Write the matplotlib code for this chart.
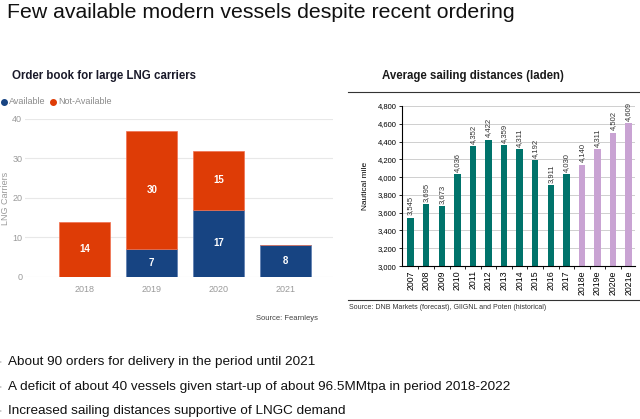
import matplotlib
matplotlib.use('Agg')
import matplotlib.pyplot as plt
from matplotlib.lines import Line2D
from matplotlib.ticker import FuncFormatter

plt.rcParams['font.family'] = ['Liberation Sans', 'DejaVu Sans']

# Order book for large LNG carriers
order_years = ['2018', '2019', '2020', '2021']
available = [0, 7, 17, 8]
not_available = [14, 30, 15, 0]

# Average sailing distances (laden)
dist_years = ['2007', '2008', '2009', '2010', '2011', '2012', '2013', '2014',
              '2015', '2016', '2017', '2018e', '2019e', '2020e', '2021e']
distances = [3545, 3695, 3673, 4036, 4352, 4422, 4359, 4311, 4192, 3911,
             4030, 4140, 4311, 4502, 4609]
n_actual = 11

bullets = ['About 90 orders for delivery in the period until 2021',
           'A deficit of about 40 vessels given start-up of about 96.5MMtpa in period 2018-2022',
           'Increased sailing distances supportive of LNGC demand']

blue = '#174482'
red = '#de3c06'
teal = '#00736b'
lilac = '#c9a3d3'

fig = plt.figure(figsize=(6.4, 4.19), dpi=100)

fig.text(0.011, 0.971, 'Few available modern vessels despite recent ordering',
         fontsize=15.3, color='#111111', va='center', ha='left')

# left chart
ax1 = fig.add_axes([0.039, 0.339, 0.481, 0.377])
x1 = range(len(order_years))
ax1.bar(x1, available, width=0.76, color=blue, edgecolor='#5a7bb0', linewidth=0.5)
ax1.bar(x1, not_available, width=0.76, bottom=available, color=red,
        edgecolor='#f07050', linewidth=0.5)
for i in x1:
    if available[i] > 0:
        ax1.text(i, available[i] / 2, str(available[i]), color='white',
                 fontsize=7, fontweight='bold', ha='center', va='center')
    if not_available[i] > 0:
        ax1.text(i, available[i] + not_available[i] / 2, str(not_available[i]),
                 color='white', fontsize=7, fontweight='bold', ha='center', va='center')
ax1.set_xlim(-0.89, 3.7)
ax1.set_ylim(0, 40)
ax1.set_yticks([0, 10, 20, 30, 40])
ax1.set_xticks(list(x1))
ax1.set_xticklabels(order_years)
ax1.grid(axis='y', color='#e8e8e8', linewidth=0.8)
ax1.set_axisbelow(True)
for s in ax1.spines.values():
    s.set_visible(False)
ax1.tick_params(axis='x', length=0, labelsize=6.5, labelcolor='#9a9a9a', pad=6)
ax1.tick_params(axis='y', length=0, labelsize=6.5, labelcolor='#9a9a9a', pad=2)
ax1.set_ylabel('LNG Carriers', fontsize=6.5, color='#9a9a9a')
ax1.yaxis.set_label_coords(-0.05, 0.5)

fig.text(0.019, 0.819, 'Order book for large LNG carriers', fontsize=8.3,
         fontweight='bold', color='#1a1a2a', va='center')
for cx, tx, lab, col in [(4, 9, 'Available', blue), (53, 58, 'Not-Available', red)]:
    fig.add_artist(Line2D([cx / 640], [1 - 102 / 419], marker='o', markersize=4,
                          color=col, linestyle='none'))
    fig.text(tx / 640, 1 - 102 / 419, lab, fontsize=6.5, color='#8a8a8a', va='center')
fig.text(0.448, 0.241, 'Source: Fearnleys', fontsize=5.5, color='#444444', ha='center', va='center')

# right chart
ax2 = fig.add_axes([0.628, 0.365, 0.364, 0.382])
x2 = list(range(len(dist_years)))
colors = [teal if i < n_actual else lilac for i in x2]
ax2.bar(x2, distances, width=0.42, color=colors, zorder=2)
for i in x2:
    ax2.text(i, distances[i] + 25, f'{distances[i]:,}', rotation=90, fontsize=5.5,
             color='#333333', ha='center', va='bottom', clip_on=False)
ax2.set_xlim(-0.56, 14.4)
ax2.set_ylim(3000, 4800)
ax2.set_yticks(range(3000, 4801, 200))
ax2.yaxis.set_major_formatter(FuncFormatter(lambda v, p: f'{int(v):,}'))
ax2.set_xticks(x2)
ax2.set_xticklabels(dist_years, rotation=90)
ax2.set_xticks([i + 0.5 for i in x2[:-1]], minor=True)
ax2.grid(axis='y', color='#c8c8c8', linewidth=0.6)
ax2.set_axisbelow(True)
ax2.spines['top'].set_visible(False)
ax2.spines['right'].set_visible(False)
ax2.spines['left'].set_linewidth(0.8)
ax2.spines['bottom'].set_linewidth(0.8)
ax2.tick_params(axis='y', length=2.5, width=0.6, labelsize=5.5, pad=1.5)
ax2.tick_params(axis='x', which='major', length=0, labelsize=6.3, pad=3)
ax2.tick_params(axis='x', which='minor', length=2.5, width=0.6)
ax2.set_ylabel('Nautical mile', fontsize=6)
ax2.yaxis.set_label_coords(-0.142, 0.5)

fig.text(0.739, 0.819, 'Average sailing distances (laden)', fontsize=8.3,
         fontweight='bold', color='#1a1a1a', ha='center', va='center')
fig.add_artist(Line2D([0.544, 1.0], [0.780, 0.780], color='#333333', linewidth=0.8))
fig.add_artist(Line2D([0.544, 1.0], [0.284, 0.284], color='#333333', linewidth=0.8))
fig.text(0.545, 0.267, 'Source: DNB Markets (forecast), GIIGNL and Poten (historical)',
         fontsize=5, color='#333333', va='center')

# bullet points
for yy, line in zip([0.136, 0.076, 0.019], bullets):
    fig.text(0.0, yy, '\u2022', fontsize=6, color='#cccccc', va='center', ha='center')
    fig.text(0.0125, yy, line, fontsize=9.7, color='#111111', va='center')

fig.savefig('out.png', dpi=100)
